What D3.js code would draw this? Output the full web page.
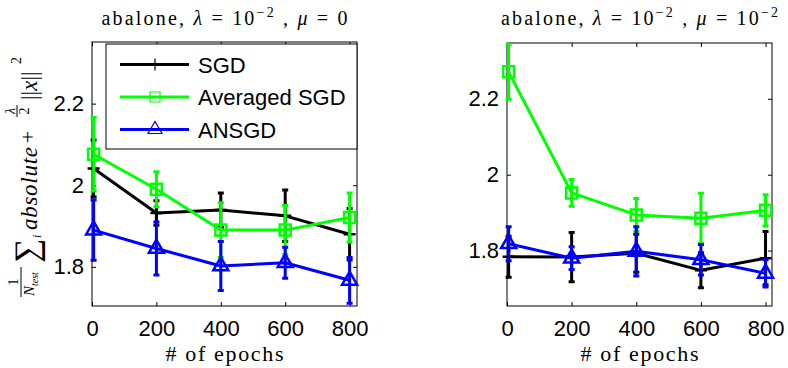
<!DOCTYPE html>
<html>
<head>
<meta charset="utf-8">
<script src="https://cdn.jsdelivr.net/npm/d3@7"></script>
<style>
  body { margin: 0; background: #fff; }
  svg { display: block; }
  .serif { font-family: "Liberation Serif", "DejaVu Serif", "Noto Serif", Times, serif; }
</style>
</head>
<body>
<svg id="chart" width="788" height="368"></svg>
<script>
// epochs where each run was evaluated
const epochs = [5, 200, 400, 600, 800];
const xTicks = [0, 200, 400, 600, 800];
const yTicks = [1.8, 2, 2.2];
const seriesNames = ["SGD", "Averaged SGD", "ANSGD"];

// left panel: mu = 0
const sgdLeft = [2.041, 1.932, 1.939, 1.925, 1.880];
const sgdLeftErr = [0.07, 0.03, 0.042, 0.063, 0.063];
const avgLeft = [2.076, 1.990, 1.890, 1.890, 1.921];
const avgLeftErr = [0.09, 0.043, 0.067, 0.06, 0.06];
const ansLeft = [1.890, 1.845, 1.802, 1.810, 1.767];
const ansLeftErr = [0.074, 0.065, 0.06, 0.038, 0.056];

// right panel: mu = 10^-2
const sgdRight = [1.784, 1.783, 1.793, 1.748, 1.780];
const sgdRightErr = [0.054, 0.065, 0.05, 0.046, 0.07];
const avgRight = [2.271, 1.952, 1.894, 1.885, 1.906];
const avgRightErr = [0.072, 0.035, 0.043, 0.066, 0.041];
const ansRight = [1.818, 1.780, 1.798, 1.776, 1.740];
const ansRightErr = [0.045, 0.03, 0.065, 0.04, 0.036];

const colors = ["#000000", "#00ff00", "#0000ff"];
const markers = ["plus", "square", "triangle"];

const panels = [
    { left: 92, right: 357, top: 42, bottom: 306, yDomain: [1.704, 2.351], xMax: 823,
      mu: "0", muSup: null,
      series: [[sgdLeft, sgdLeftErr], [avgLeft, avgLeftErr], [ansLeft, ansLeftErr]], legend: true },
    { left: 507, right: 772, top: 43, bottom: 306, yDomain: [1.654, 2.347], xMax: 820,
      mu: "10", muSup: "\u22122",
      series: [[sgdRight, sgdRightErr], [avgRight, avgRightErr], [ansRight, ansRightErr]], legend: false }
];

const svg = d3.select("#chart");
const sansFont = "'Liberation Sans', Arial, sans-serif";

function markerPath(type, big) {
    if (type === "plus") return "M-6,0H6M0,-6V6";
    if (type === "square") { const s = big ? 5.5 : 5; return `M${-s},${-s}H${s}V${s}H${-s}Z`; }
    const w = big ? 7.5 : 7, h = big ? 13 : 12;
    return `M0,${-h * 2 / 3}L${w},${h / 3}L${-w},${h / 3}Z`;
}

panels.forEach(p => {
    const x = d3.scaleLinear().domain([0, p.xMax]).range([p.left, p.right]);
    const y = d3.scaleLinear().domain(p.yDomain).range([p.bottom, p.top]);
    const g = svg.append("g");

    // axes with inward ticks on all four sides
    const fmt = d => d3.format("~g")(d);
    const axes = [
        [d3.axisBottom(x).tickValues(xTicks).tickFormat(fmt), `translate(0,${p.bottom})`],
        [d3.axisTop(x).tickValues(xTicks).tickFormat(""), `translate(0,${p.top})`],
        [d3.axisLeft(y).tickValues(yTicks).tickFormat(fmt), `translate(${p.left},0)`],
        [d3.axisRight(y).tickValues(yTicks).tickFormat(""), `translate(${p.right},0)`]
    ];
    axes.forEach(([ax, tr], i) => {
        ax.tickSizeInner(-4).tickSizeOuter(0).tickPadding(i === 0 ? 14 : 8);
        const a = g.append("g").attr("transform", tr).call(ax);
        a.select(".domain").remove();
        a.selectAll(".tick line").attr("stroke", "#000").attr("stroke-width", 1);
        a.selectAll("text").attr("font-family", sansFont).attr("font-size", 22).attr("fill", "#000");
    });
    g.append("rect")
        .attr("x", p.left).attr("y", p.top)
        .attr("width", p.right - p.left).attr("height", p.bottom - p.top)
        .attr("fill", "none").attr("stroke", "#000").attr("stroke-width", 1);

    // series: lines, error bars, markers
    const line = d3.line().x(d => x(d.e)).y(d => y(d.v));
    p.series.forEach(([vals, errs], si) => {
        const data = epochs.map((e, i) => ({ e, v: vals[i], err: errs[i] }));
        const sg = g.append("g");
        sg.append("path").datum(data).attr("d", line)
            .attr("fill", "none").attr("stroke", colors[si]).attr("stroke-width", 3)
            .attr("stroke-linejoin", "round");
        sg.selectAll(".err").data(data).enter().append("path")
            .attr("d", d => {
                const cx = x(d.e), t = y(d.v + d.err), b = y(d.v - d.err);
                return `M${cx},${t}V${b}M${cx - 3},${t}H${cx + 3}M${cx - 3},${b}H${cx + 3}`;
            })
            .attr("fill", "none").attr("stroke", colors[si]).attr("stroke-width", 3);
        sg.selectAll(".mk").data(data).enter().append("path")
            .attr("transform", d => `translate(${x(d.e)},${y(d.v)})`)
            .attr("d", markerPath(markers[si], true))
            .attr("fill", "none").attr("stroke", colors[si]).attr("stroke-width", 2.5);
    });

    // title
    const cx = (p.left + p.right) / 2;
    const title = g.append("text").attr("class", "serif").attr("x", cx).attr("y", 25)
        .attr("text-anchor", "middle").attr("font-size", 20);
    title.append("tspan").text("abalone, ");
    title.append("tspan").attr("font-style", "italic").text("\u03bb");
    title.append("tspan").text(" = 10");
    title.append("tspan").attr("font-size", 14).attr("dy", -8).text("\u22122");
    title.append("tspan").attr("dy", 8).text(" , ");
    title.append("tspan").attr("font-style", "italic").text("\u03bc");
    title.append("tspan").text(" = " + p.mu);
    if (p.muSup) title.append("tspan").attr("font-size", 14).attr("dy", -8).text(p.muSup);
    title.attr("textLength", p.muSup ? 277 : 246).attr("lengthAdjust", "spacing");

    // x label
    g.append("text").attr("class", "serif").attr("x", cx).attr("y", 361).attr("text-anchor", "middle")
        .attr("font-size", 22)
        .attr("textLength", 118).attr("lengthAdjust", "spacing")
        .text("# of epochs");

    // legend
    if (p.legend) {
        const lg = g.append("g");
        lg.append("rect").attr("x", 106).attr("y", 44).attr("width", 251).attr("height", 105)
            .attr("fill", "#fff").attr("stroke", "#000").attr("stroke-width", 1);
        seriesNames.forEach((name, i) => {
            const ly = 64.5 + i * 32.5;
            lg.append("line").attr("x1", 120).attr("x2", 189).attr("y1", ly).attr("y2", ly)
                .attr("stroke", colors[i]).attr("stroke-width", 3);
            lg.append("path").attr("transform", `translate(155,${ly})`)
                .attr("d", markerPath(markers[i], false))
                .attr("fill", "none").attr("stroke", colors[i]).attr("stroke-width", 1.2);
            lg.append("text").attr("x", 198).attr("y", ly + 8)
                .attr("font-family", sansFont).attr("font-size", 22).text(name);
        });
    }
});

// y label (rotated math expression), local u runs upward along the label
const yl = svg.append("g").attr("class", "serif").attr("transform", "translate(37,297) rotate(-90)")
    .attr("fill", "#000");
yl.append("text").attr("x", 15).attr("y", -19).attr("text-anchor", "middle").attr("font-size", 14).text("1");
yl.append("line").attr("x1", 0).attr("x2", 30).attr("y1", -16).attr("y2", -16).attr("stroke", "#000").attr("stroke-width", 1);
const den = yl.append("text").attr("x", 1).attr("y", -3).attr("font-size", 15).attr("font-style", "italic");
den.append("tspan").text("N");
den.append("tspan").attr("font-size", 10).attr("dy", 4).text("test");
yl.append("text").attr("x", 34).attr("y", 1).attr("font-size", 34).text("\u2211");
yl.append("text").attr("x", 59).attr("y", 4).attr("font-size", 12).attr("font-style", "italic").text("i");
yl.append("text").attr("x", 67).attr("y", 0).attr("font-size", 23).attr("font-style", "italic")
    .attr("textLength", 83).attr("lengthAdjust", "spacing").text("absolute");
yl.append("text").attr("x", 160).attr("y", -2).attr("text-anchor", "middle").attr("font-size", 22).text("+");
yl.append("text").attr("x", 186).attr("y", -22).attr("text-anchor", "middle").attr("font-size", 14).attr("font-style", "italic").text("\u03bb");
yl.append("line").attr("x1", 180).attr("x2", 192).attr("y1", -20).attr("y2", -20).attr("stroke", "#000").attr("stroke-width", 1);
yl.append("text").attr("x", 186).attr("y", -8).attr("text-anchor", "middle").attr("font-size", 14).text("2");
const nrm = yl.append("text").attr("x", 197).attr("y", 0).attr("font-size", 23);
nrm.append("tspan").text("||");
nrm.append("tspan").attr("font-style", "italic").text("x");
nrm.append("tspan").text("||");
yl.append("text").attr("x", 233).attr("y", -16).attr("font-size", 14).text("2");
</script>
</body>
</html>
